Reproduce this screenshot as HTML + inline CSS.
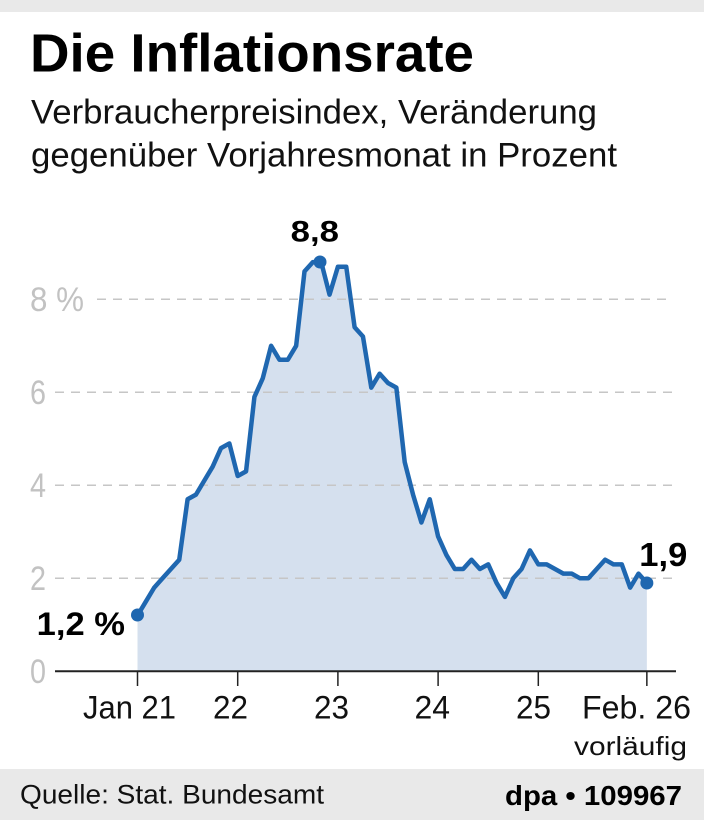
<!DOCTYPE html>
<html>
<head>
<meta charset="utf-8">
<style>
  html, body { margin: 0; padding: 0; background: #ffffff; }
  body { width: 704px; height: 820px; overflow: hidden; }
  svg { display: block; }
  text { font-family: "Liberation Sans", "DejaVu Sans", sans-serif; }
</style>
</head>
<body>
<svg width="704" height="820" viewBox="0 0 704 820" xmlns="http://www.w3.org/2000/svg">
  <!-- top gray bar -->
  <rect x="0" y="0" width="704" height="12" fill="#e9e9e9"/>

  <!-- title -->
  <text x="30" y="71.7" font-size="54" font-weight="bold" fill="#000" textLength="444" lengthAdjust="spacingAndGlyphs">Die Inflationsrate</text>
  <text x="31" y="123.3" font-size="34" fill="#111" textLength="566" lengthAdjust="spacingAndGlyphs">Verbraucherpreisindex, Veränderung</text>
  <text x="31" y="166.7" font-size="34" fill="#111" textLength="586" lengthAdjust="spacingAndGlyphs">gegenüber Vorjahresmonat in Prozent</text>

  <!-- area fill -->
  <polygon fill="#d5e0ee" points="137.5,671.3 137.5,615.5 145.85,601.55 154.2,587.6 162.55,578.3 170.9,569.0 179.25,559.7 187.6,499.25 195.95,494.6 204.3,480.65 212.65,466.7 221.0,448.1 229.35,443.45 237.7,476.0 246.05,471.35 254.4,396.95 262.75,378.35 271.1,345.8 279.45,359.75 287.8,359.75 296.15,345.8 304.5,271.4 312.85,262.1 321.2,262.1 329.55,294.65 337.9,266.75 346.25,266.75 354.6,327.2 362.95,336.5 371.3,387.65 379.65,373.7 388.0,383.0 396.35,387.65 404.7,462.05 413.05,494.6 421.4,522.5 429.75,499.25 438.1,536.45 446.45,555.05 454.8,569.0 463.15,569.0 471.5,559.7 479.85,569.0 488.2,564.35 496.55,582.95 504.9,596.9 513.25,578.3 521.6,569.0 529.95,550.4 538.3,564.35 546.65,564.35 555.0,569.0 563.35,573.65 571.7,573.65 580.05,578.3 588.4,578.3 596.75,569.0 605.1,559.7 613.45,564.35 621.8,564.35 630.15,587.6 638.5,573.65 646.85,582.95 646.85,671.3"/>

  <!-- gridlines -->
  <g stroke="#c6c6c6" stroke-width="1.5" stroke-dasharray="9 7" fill="none">
    <line x1="97" y1="299.3" x2="672" y2="299.3"/>
    <line x1="55" y1="392.3" x2="676" y2="392.3"/>
    <line x1="55" y1="485.3" x2="676" y2="485.3"/>
    <line x1="55" y1="578.3" x2="672" y2="578.3"/>
  </g>

  <!-- y labels -->
  <g fill="#c2c2c2" font-size="34">
    <text x="30" y="311" textLength="54" lengthAdjust="spacingAndGlyphs">8 %</text>
    <text x="30" y="404" textLength="16" lengthAdjust="spacingAndGlyphs">6</text>
    <text x="30" y="497" textLength="16" lengthAdjust="spacingAndGlyphs">4</text>
    <text x="30" y="590" textLength="16" lengthAdjust="spacingAndGlyphs">2</text>
    <text x="30" y="683" textLength="16" lengthAdjust="spacingAndGlyphs">0</text>
  </g>

  <!-- line -->
  <polyline fill="none" stroke="#1f67b0" stroke-width="4.5" stroke-linejoin="round" stroke-linecap="round" points="137.5,615.5 145.85,601.55 154.2,587.6 162.55,578.3 170.9,569.0 179.25,559.7 187.6,499.25 195.95,494.6 204.3,480.65 212.65,466.7 221.0,448.1 229.35,443.45 237.7,476.0 246.05,471.35 254.4,396.95 262.75,378.35 271.1,345.8 279.45,359.75 287.8,359.75 296.15,345.8 304.5,271.4 312.85,262.1 321.2,262.1 329.55,294.65 337.9,266.75 346.25,266.75 354.6,327.2 362.95,336.5 371.3,387.65 379.65,373.7 388.0,383.0 396.35,387.65 404.7,462.05 413.05,494.6 421.4,522.5 429.75,499.25 438.1,536.45 446.45,555.05 454.8,569.0 463.15,569.0 471.5,559.7 479.85,569.0 488.2,564.35 496.55,582.95 504.9,596.9 513.25,578.3 521.6,569.0 529.95,550.4 538.3,564.35 546.65,564.35 555.0,569.0 563.35,573.65 571.7,573.65 580.05,578.3 588.4,578.3 596.75,569.0 605.1,559.7 613.45,564.35 621.8,564.35 630.15,587.6 638.5,573.65 646.85,582.95"/>

  <!-- dots -->
  <g fill="#1f67b0">
    <circle cx="137.5" cy="615.0" r="6.5"/>
    <circle cx="320" cy="262" r="6.5"/>
    <circle cx="646.85" cy="583" r="6.5"/>
  </g>

  <!-- value labels -->
  <g font-weight="bold" fill="#000">
    <text x="290.7" y="241.7" font-size="30" textLength="48.3" lengthAdjust="spacingAndGlyphs">8,8</text>
    <text x="36.7" y="635" font-size="32" textLength="88.3" lengthAdjust="spacingAndGlyphs">1,2 %</text>
    <text x="639.3" y="566" font-size="33" textLength="48" lengthAdjust="spacingAndGlyphs">1,9</text>
  </g>

  <!-- x axis -->
  <line x1="55" y1="671.3" x2="676" y2="671.3" stroke="#222" stroke-width="2"/>
  <g stroke="#222" stroke-width="1.5">
    <line x1="137.5" y1="671" x2="137.5" y2="686"/>
    <line x1="237.7" y1="671" x2="237.7" y2="686"/>
    <line x1="337.9" y1="671" x2="337.9" y2="686"/>
    <line x1="438.1" y1="671" x2="438.1" y2="686"/>
    <line x1="538.3" y1="671" x2="538.3" y2="686"/>
    <line x1="646.85" y1="671" x2="646.85" y2="686"/>
  </g>

  <!-- x labels -->
  <g fill="#111" font-size="32">
    <text x="83" y="718.7" textLength="93" lengthAdjust="spacingAndGlyphs">Jan 21</text>
    <text x="213" y="718.7" textLength="35" lengthAdjust="spacingAndGlyphs">22</text>
    <text x="314" y="718.7" textLength="35" lengthAdjust="spacingAndGlyphs">23</text>
    <text x="414.5" y="718.7" textLength="35.5" lengthAdjust="spacingAndGlyphs">24</text>
    <text x="516" y="718.7" textLength="35" lengthAdjust="spacingAndGlyphs">25</text>
    <text x="582" y="718.7" textLength="109" lengthAdjust="spacingAndGlyphs">Feb. 26</text>
  </g>
  <text x="574" y="755" font-size="26" fill="#111" textLength="113" lengthAdjust="spacingAndGlyphs">vorläufig</text>

  <!-- footer -->
  <rect x="0" y="769" width="704" height="51" fill="#e9e9e9"/>
  <text x="20" y="803.5" font-size="27" fill="#111" textLength="304" lengthAdjust="spacingAndGlyphs">Quelle: Stat. Bundesamt</text>
  <text x="505" y="805" font-size="28" font-weight="bold" fill="#000" textLength="177" lengthAdjust="spacingAndGlyphs">dpa • 109967</text>
</svg>
</body>
</html>
